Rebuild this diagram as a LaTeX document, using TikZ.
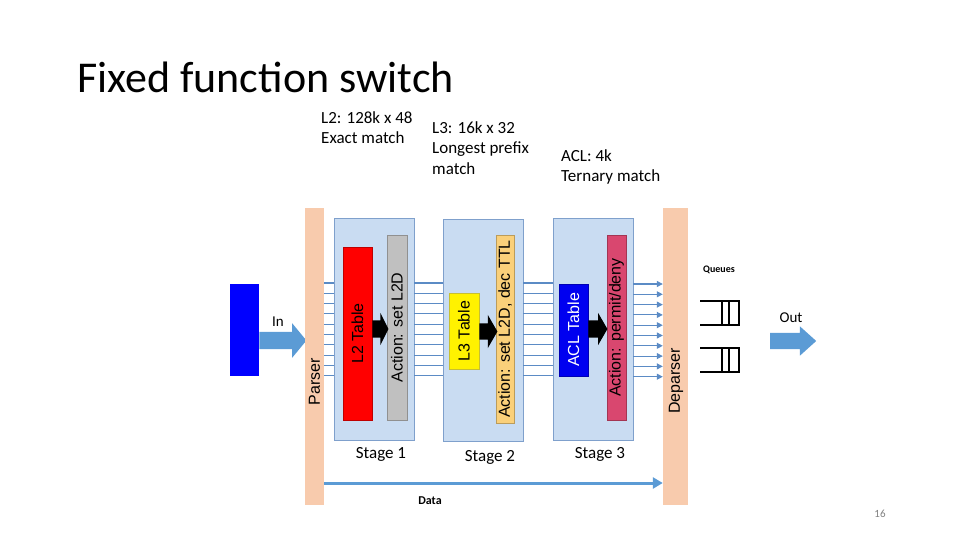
\documentclass[tikz,border=0pt]{standalone}
\usepackage{graphicx}
\usepackage{fontspec}
\setmainfont{Carlito}
\newfontfamily\arialfont{Liberation Sans}
\usetikzlibrary{arrows.meta, shapes.arrows}

\definecolor{peach}{HTML}{F8CBAD}
\definecolor{stagefill}{HTML}{C9DCF2}
\definecolor{stageline}{HTML}{7FA0CC}
\definecolor{wire}{HTML}{5B8BC5}
\definecolor{arrowblue}{HTML}{5B9BD5}
\definecolor{actgray}{HTML}{C0C0C0}
\definecolor{actorange}{HTML}{FAD07A}
\definecolor{actpink}{HTML}{D9476F}
\definecolor{aclblue}{HTML}{0000F0}

\begin{document}
\begin{tikzpicture}[x=1pt, y=-1pt,
  bar/.style={fill=peach, inner sep=0, minimum width=19, minimum height=297},
  stagebox/.style={draw=stageline, fill=stagefill, line width=0.8pt, inner sep=0, minimum width=80, minimum height=222},
  tablebox/.style={draw=#1!75!black, fill=#1, inner sep=0, font=\arialfont\fontsize{16}{16}\selectfont},
  fatarrow/.style={single arrow, fill=#1, draw=none, inner xsep=0, anchor=tail},
  wireline/.style={draw=wire, line width=1.1pt},
  txt/.style={inner sep=0, font=\fontsize{17}{20.5}\selectfont},
  queue/.style={line width=2pt, line cap=rect}]
	\useasboundingbox (0,0) rectangle (960,540);
	\node[anchor=base west, inner sep=0, font=\fontsize{44}{44}\selectfont] (title) at (77,93) {Fixed function switch};
	\node[txt, anchor=north west, align=left] (l2info) at (321,111) {L2: 128k x 48\\Exact match};
	\node[txt, anchor=north west, align=left] (l3info) at (432,121) {L3: 16k x 32\\Longest prefix\\match};
	\node[txt, anchor=north west, align=left] (aclinfo) at (561,149) {ACL: 4k\\Ternary match};

	\node[fill=blue, inner sep=0, minimum width=29, minimum height=92] (src) at (244.5,330) {};
	\node[fatarrow=arrowblue, inner ysep=8.5, minimum height=47, single arrow head extend=8.5, single arrow tip angle=101] (inarrow) at (src.east |- 0,340.5) {};
	\node[inner sep=0, font=\fontsize{15}{15}\selectfont] (inlbl) at (278,322) {In};

	\node[bar] (parser) at (314.5,356.5) {};
	\node[inner sep=0, font=\arialfont\fontsize{16}{16}\selectfont] (parserlbl) at (314.5,382) {\rotatebox{90}{Parser}};
	\node[bar, minimum width=25] (deparser) at (675.5,356.5) {};
	\node[inner sep=0, font=\arialfont\fontsize{16}{16}\selectfont] (deparserlbl) at (676,381) {\rotatebox{90}{Deparser}};

	\node[stagebox] (stage1) at (374,329) {};
	\node[stagebox] (stage2) at (483,330) {};
	\node[stagebox] (stage3) at (593,329.5) {};

	\foreach \i in {0,...,9} {
	  \pgfmathsetmacro\wy{283+10.3*\i}
	  \coordinate (w) at (0,\wy);
	  \coordinate (wa) at (0,\wy+1);
	  \draw[wireline] (parser.east |- w) -- (stage1.west |- w);
	  \draw[wireline] (stage1.east |- w) -- (stage2.west |- w);
	  \draw[wireline] (stage2.east |- w) -- (stage3.west |- w);
	  \draw[wireline, -{Triangle[length=6pt,width=6pt]}] (stage3.east |- wa) -- (deparser.west |- wa);
	}

	\node[tablebox=red, minimum width=29, minimum height=173] (l2tab) at (357.5,333.5) {\rotatebox{90}{L2 Table}};
	\node[tablebox=actgray, minimum width=20, minimum height=185] (act1) at (397,327.5) {\rotatebox{90}{Action: set L2D}};
	\node[tablebox=yellow, minimum width=30, minimum height=76] (l3tab) at (464,331) {\rotatebox{90}{L3 Table}};
	\node[tablebox=actorange, minimum width=18, minimum height=188] (act2) at (505,329) {\rotatebox{90}{Action: set L2D, dec TTL}};
	\node[tablebox=aclblue, text=white, minimum width=29, minimum height=92] (acltab) at (573.5,330) {\rotatebox{90}{ACL Table}};
	\node[tablebox=actpink, minimum width=19, minimum height=185] (act3) at (616.5,327.5) {\rotatebox{90}{Action: permit/deny}};

	\node[fatarrow=black, inner ysep=8.5, minimum height=16, single arrow head extend=7.5, single arrow tip angle=127] (look1) at (l2tab.east |- 0,329) {};
	\node[fatarrow=black, inner ysep=8, minimum height=18, single arrow head extend=8.5, single arrow tip angle=120] (look2) at (l3tab.east |- 0,331.5) {};
	\node[fatarrow=black, inner ysep=8.5, minimum height=19, single arrow head extend=7.5, single arrow tip angle=120] (look3) at (acltab.east |- 0,329) {};

	\node[txt, anchor=base] (stage1lbl) at (381,458) {Stage 1};
	\node[txt, anchor=base] (stage2lbl) at (490,461) {Stage 2};
	\node[txt, anchor=base] (stage3lbl) at (600,458) {Stage 3};

	\draw[draw=arrowblue, line width=3pt, -{Triangle[length=10pt,width=11pt]}] (parser.east |- 0,483) -- (deparser.west |- 0,483);
	\node[inner sep=0, font=\bfseries\fontsize{12}{12}\selectfont] (datalbl) at (430,501) {Data};

	\node[inner sep=0, font=\bfseries\fontsize{10}{10}\selectfont] (queuelbl) at (719,270) {Queues};
	\foreach \qy in {301,348} {
	  \draw[queue] (701,\qy) -- (739,\qy) -- (739,{\qy+24}) -- (701,{\qy+24});
	  \draw[queue] (722,\qy) -- (722,{\qy+24});
	  \draw[queue] (729,\qy) -- (729,{\qy+24});
	}
	\node[fatarrow=arrowblue, inner ysep=8, minimum height=46, single arrow head extend=6.5, single arrow tip angle=84] (outarrow) at (770,341) {};
	\node[inner sep=0, font=\fontsize{15}{15}\selectfont] (outlbl) at (791,318) {Out};

	\node[inner sep=0, text=gray, font=\fontsize{11}{11}\selectfont] (pagenum) at (880,514) {16};
\end{tikzpicture}
\end{document}
